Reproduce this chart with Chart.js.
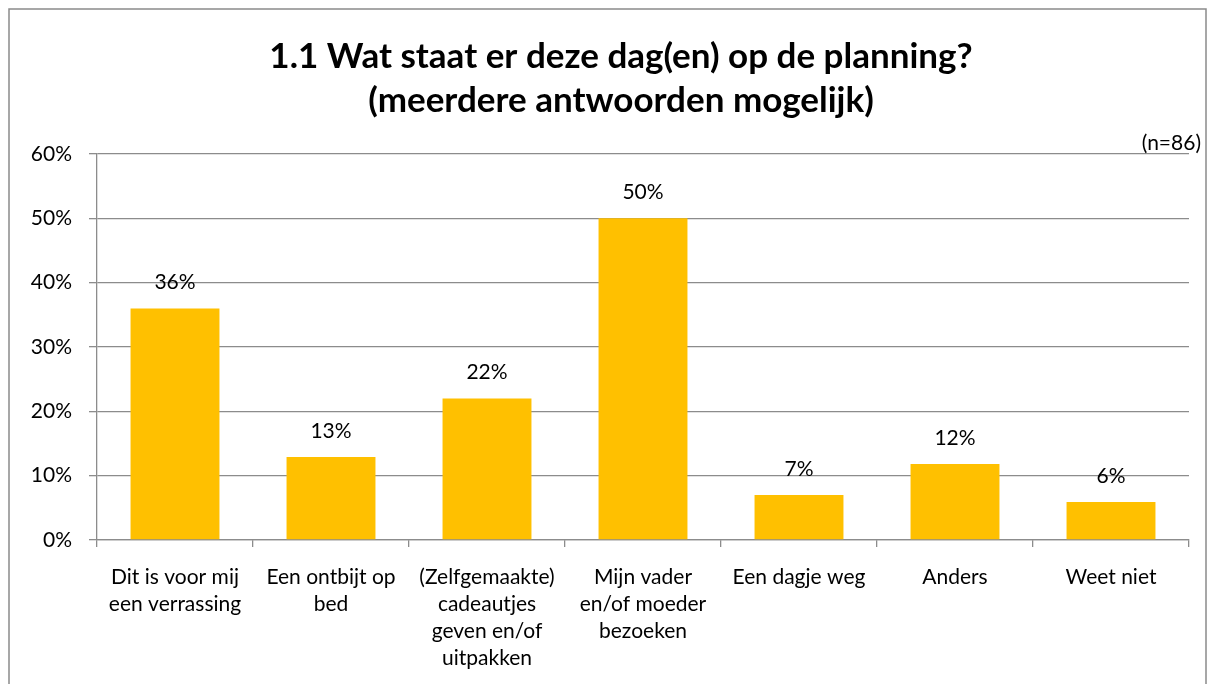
<!DOCTYPE html>
<html>
<head>
<meta charset="utf-8">
<script src="https://cdn.jsdelivr.net/npm/chart.js@4"></script>
<style>
  html, body { margin: 0; padding: 0; background: #fff; }
  #wrap { width: 1214px; height: 684px; position: relative; }
</style>
</head>
<body>
<div id="wrap"><canvas id="grafiek" width="1214" height="684"></canvas></div>
<script>
const categorieen = [
  ["Dit is voor mij", "een verrassing"],
  ["Een ontbijt op", "bed"],
  ["(Zelfgemaakte)", "cadeautjes", "geven en/of", "uitpakken"],
  ["Mijn vader", "en/of moeder", "bezoeken"],
  ["Een dagje weg"],
  ["Anders"],
  ["Weet niet"]
];
const percentages = [36, 12.9, 22, 50, 7, 11.8, 5.9];
const labelTeksten = ["36%", "13%", "22%", "50%", "7%", "12%", "6%"];
const titelRegels = ["1.1 Wat staat er deze dag(en) op de planning?", "(meerdere antwoorden mogelijk)"];
const steekproef = "(n=86)";

const lettertype = "Lato, 'Open Sans', sans-serif";

const extraTekst = {
  id: "extraTekst",
  beforeDraw(chart) {
    const ctx = chart.ctx;
    ctx.save();
    ctx.fillStyle = "#fff";
    ctx.fillRect(0, 0, chart.width, chart.height);
    ctx.strokeStyle = "#8a8a8a";
    ctx.lineWidth = 1.5;
    ctx.strokeRect(9, 9, 1197, 700);
    ctx.restore();
  },
  afterDatasetsDraw(chart) {
    const ctx = chart.ctx;
    ctx.save();
    ctx.fillStyle = "#000";
    ctx.textAlign = "center";
    ctx.textBaseline = "middle";
    ctx.font = "bold 35px " + lettertype;
    ctx.fillText(titelRegels[0], 621, 57);
    ctx.fillText(titelRegels[1], 621, 101);
    ctx.font = "21px " + lettertype;
    ctx.textAlign = "right";
    ctx.fillText(steekproef, 1201, 143);
    ctx.textAlign = "center";
    chart.getDatasetMeta(0).data.forEach(function(bar, i) {
      ctx.fillText(labelTeksten[i], bar.x, bar.y - 26);
    });
    ctx.restore();
  }
};

new Chart(document.getElementById("grafiek").getContext("2d"), {
  type: "bar",
  data: {
    labels: categorieen,
    datasets: [{
      data: percentages,
      backgroundColor: "#FFC000",
      barPercentage: 0.57,
      categoryPercentage: 1
    }]
  },
  options: {
    responsive: false,
    animation: false,
    layout: { padding: { left: 0, top: 154, right: 25, bottom: 0 } },
    plugins: { legend: { display: false }, tooltip: { enabled: false } },
    scales: {
      y: {
        min: 0, max: 60,
        afterFit: function(s) { s.width = 97; },
        ticks: {
          stepSize: 10,
          padding: 17,
          color: "#000",
          font: { family: lettertype, size: 21 },
          callback: function(v) { return v + "%"; }
        },
        grid: { color: "#8c8c8c", lineWidth: 1.3, tickLength: 8 },
        border: { color: "#8c8c8c", width: 1.3 }
      },
      x: {
        afterFit: function(s) { s.height = 144; },
        ticks: {
          padding: 17,
          color: "#000",
          maxRotation: 0,
          autoSkip: false,
          font: { family: lettertype, size: 21, lineHeight: 1.28 }
        },
        grid: { offset: true, drawOnChartArea: false, color: "#8c8c8c", lineWidth: 1.3, tickLength: 7 },
        border: { color: "#8c8c8c", width: 1.3 }
      }
    }
  },
  plugins: [extraTekst]
});
</script>
</body>
</html>
